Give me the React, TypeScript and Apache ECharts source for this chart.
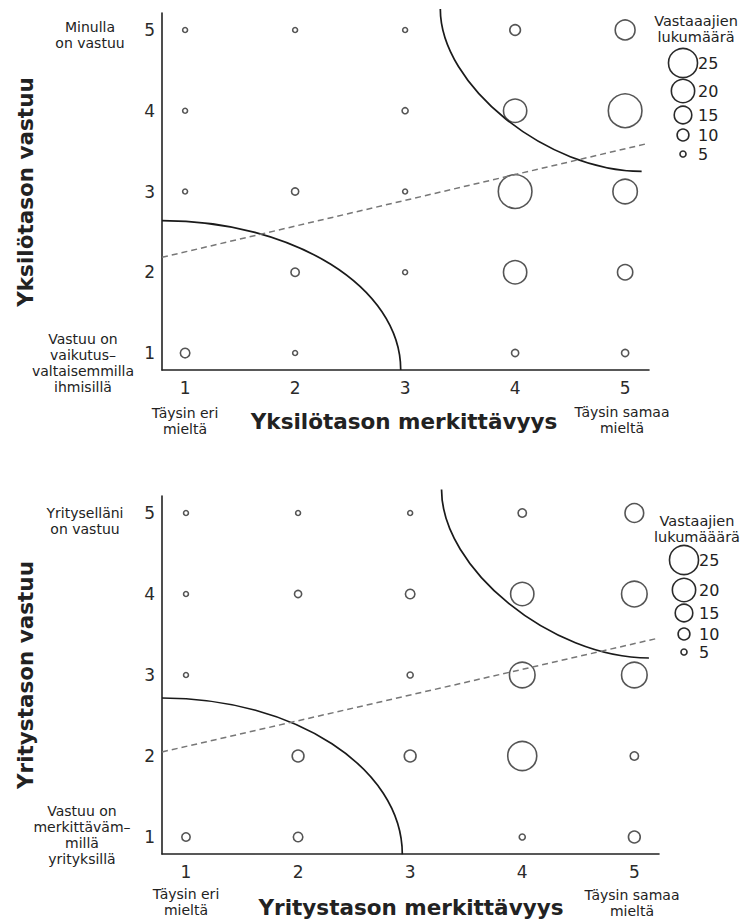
import React, { useEffect, useRef } from "react";
import * as echarts from "echarts";

// ---- data ----
const AXIS_TICKS = [1, 2, 3, 4, 5];
const LEGEND_COUNTS = [25, 20, 15, 10, 5];

// [merkittävyys, vastuu, vastaajien lukumäärä]
const individualBubbles = [
  [1, 5, 4], [1, 4, 4], [1, 3, 4], [1, 1, 8],
  [2, 5, 4], [2, 3, 6], [2, 2, 7], [2, 1, 4],
  [3, 5, 4], [3, 4, 5], [3, 3, 4], [3, 2, 4],
  [4, 5, 9], [4, 4, 20], [4, 3, 29], [4, 2, 20], [4, 1, 6],
  [5, 5, 17], [5, 4, 29], [5, 3, 21], [5, 2, 13], [5, 1, 6],
];
const companyBubbles = [
  [1, 5, 4], [1, 4, 4], [1, 3, 4], [1, 1, 7],
  [2, 5, 4], [2, 4, 6], [2, 2, 10], [2, 1, 8],
  [3, 5, 4], [3, 4, 8], [3, 3, 5], [3, 2, 10],
  [4, 5, 7], [4, 4, 20], [4, 3, 22], [4, 2, 25], [4, 1, 5],
  [5, 5, 16], [5, 4, 22], [5, 3, 22], [5, 2, 7], [5, 1, 10],
];

const individualTrend = [[0.79, 2.185], [5.21, 3.596]];
const companyTrend = [[0.786, 2.05], [5.22, 3.457]];

const individualLowCurve = [[0.79, 2.64], [2.96, 0.79]];
const individualHighCurve = [[3.32, 5.26], [5.15, 3.25]];
const companyLowCurve = [[0.786, 2.716], [2.93, 0.786]];
const companyHighCurve = [[3.28, 5.29], [5.13, 3.21]];

// ---- styling ----
const FONT = "DejaVu Sans";
const TEXT = "#222";
const bubbleSize = (n: number) => 1.15 * n + 0.3;

const isTick = (v: number) => AXIS_TICKS.some((t) => Math.abs(t - v) < 1e-6);

function makeAxis(kind: "x" | "y", gridIndex: number, min: number, max: number) {
  return {
    type: "value",
    gridIndex,
    min,
    max,
    splitNumber: 5,
    axisLine: { show: true, onZero: false, lineStyle: { color: "#222", width: 1.6 } },
    axisTick: { show: false },
    splitLine: { show: false },
    axisLabel: {
      formatter: (v: number) => (isTick(v) ? String(Math.round(v)) : ""),
      fontSize: 17,
      color: "#2a2a2a",
      fontFamily: FONT,
      margin: kind === "x" ? 9 : 7,
    },
  };
}

function curveSeries(pts: number[][], kind: "low" | "high", idx: number) {
  const K = kind === "low" ? 0.5523 : 0.47;
  return {
    type: "custom",
    xAxisIndex: idx,
    yAxisIndex: idx,
    silent: true,
    clip: false,
    data: [pts[0]],
    renderItem: (_params: any, api: any) => {
      const a = pts[0];
      const b = pts[1];
      let c1: number[];
      let c2: number[];
      if (kind === "low") {
        c1 = [a[0] + K * (b[0] - a[0]), a[1]];
        c2 = [b[0], b[1] + K * (a[1] - b[1])];
      } else {
        c1 = [a[0], a[1] - K * (a[1] - b[1])];
        c2 = [b[0] - K * (b[0] - a[0]), b[1]];
      }
      const p0 = api.coord(a);
      const p1 = api.coord(c1);
      const p2 = api.coord(c2);
      const p3 = api.coord(b);
      return {
        type: "bezierCurve",
        shape: {
          x1: p0[0], y1: p0[1],
          cpx1: p1[0], cpy1: p1[1],
          cpx2: p2[0], cpy2: p2[1],
          x2: p3[0], y2: p3[1],
        },
        style: { stroke: "#1a1a1a", lineWidth: 1.7, fill: "none" },
      };
    },
  };
}

function bubbleSeries(data: number[][], idx: number) {
  return {
    type: "scatter",
    xAxisIndex: idx,
    yAxisIndex: idx,
    data,
    symbol: "circle",
    symbolSize: (val: number[]) => bubbleSize(val[2]),
    itemStyle: { color: "rgba(0,0,0,0)", borderColor: "#2a2a2a", borderWidth: 1.6 },
    emphasis: { disabled: true },
    silent: true,
  };
}

function trendSeries(data: number[][], idx: number) {
  return {
    type: "line",
    xAxisIndex: idx,
    yAxisIndex: idx,
    data,
    symbol: "none",
    silent: true,
    lineStyle: { type: [6, 4], color: "#777", width: 1.5 },
  };
}

function txt(x: number, y: number, text: string, opts: any = {}) {
  return {
    type: "text",
    x,
    y,
    rotation: opts.rotation || 0,
    silent: true,
    style: {
      text,
      fontFamily: FONT,
      fontSize: opts.fontSize || 14,
      fontWeight: opts.fontWeight || "normal",
      lineHeight: opts.lineHeight || 16,
      fill: TEXT,
      align: opts.align || "center",
      verticalAlign: "middle",
    },
  };
}

function legend(cx: number, ys: number[], title: string, titleX: number, titleY: number) {
  const els: any[] = [txt(titleX, titleY, title, { fontSize: 14.5, lineHeight: 16 })];
  LEGEND_COUNTS.forEach((n, i) => {
    els.push({
      type: "circle",
      silent: true,
      shape: { cx, cy: ys[i], r: bubbleSize(n) / 2 },
      style: { fill: "none", stroke: "#2a2a2a", lineWidth: 1.6 },
    });
    els.push(txt(cx + 15, ys[i], String(n), { align: "left", fontSize: 16 }));
  });
  return els;
}

export default function App() {
  const ref = useRef<HTMLDivElement>(null);
  useEffect(() => {
    document.body.style.margin = "0";
    if (!ref.current) return;
    const chart = echarts.init(ref.current, undefined, { renderer: "svg" });
    const graphic: any[] = [
      // top chart texts
      txt(90, 35, "Minulla\non vastuu"),
      txt(83, 363, "Vastuu on\nvaikutus–\nvaltaisemmilla\nihmisillä"),
      txt(185, 421, "Täysin eri\nmieltä"),
      txt(622, 420, "Täysin samaa\nmieltä"),
      txt(404, 421, "Yksilötason merkittävyys", { fontSize: 21.5, fontWeight: "bold" }),
      txt(25, 192, "Yksilötason vastuu", { fontSize: 21.5, fontWeight: "bold", rotation: Math.PI / 2 }),
      ...legend(683, [63, 91, 115, 135, 154], "Vastaaajien\nlukumäärä", 696, 29),
      // bottom chart texts
      txt(85, 521, "Yrityselläni\non vastuu"),
      txt(82, 835, "Vastuu on\nmerkittäväm–\nmillä\nyrityksillä"),
      txt(186, 902, "Täysin eri\nmieltä"),
      txt(632, 903, "Täysin samaa\nmieltä"),
      txt(411, 907, "Yritystason merkittävyys", { fontSize: 21.5, fontWeight: "bold" }),
      txt(25, 675, "Yritystason vastuu", { fontSize: 21.5, fontWeight: "bold", rotation: Math.PI / 2 }),
      ...legend(684, [560, 590, 613, 634, 652], "Vastaajien\nlukumääärä", 697, 529),
    ];
    chart.setOption({
      animation: false,
      backgroundColor: "#fff",
      grid: [
        { left: 162, top: 13, width: 487, height: 357 },
        { left: 162, top: 496, width: 497, height: 358 },
      ],
      xAxis: [makeAxis("x", 0, 0.79, 5.217), makeAxis("x", 1, 0.786, 5.22)],
      yAxis: [makeAxis("y", 0, 0.79, 5.21), makeAxis("y", 1, 0.79, 5.21)],
      series: [
        trendSeries(individualTrend, 0),
        curveSeries(individualLowCurve, "low", 0),
        curveSeries(individualHighCurve, "high", 0),
        bubbleSeries(individualBubbles, 0),
        trendSeries(companyTrend, 1),
        curveSeries(companyLowCurve, "low", 1),
        curveSeries(companyHighCurve, "high", 1),
        bubbleSeries(companyBubbles, 1),
      ],
      graphic,
    });
    return () => chart.dispose();
  }, []);
  return <div ref={ref} style={{ width: 741, height: 923 }} />;
}
